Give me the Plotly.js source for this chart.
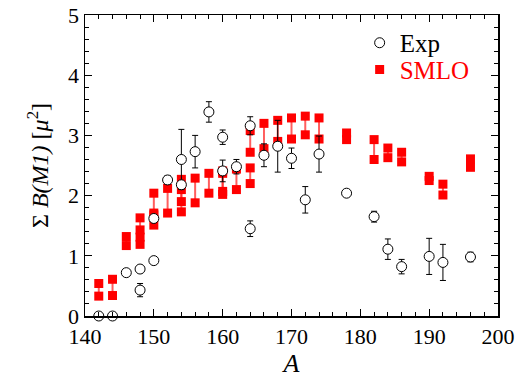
<!DOCTYPE html>
<html>
<head>
<meta charset="utf-8">
<script src="https://cdn.plot.ly/plotly-3.0.1.min.js"></script>
<style>html,body{margin:0;padding:0;background:#fff;}#chart{width:517px;height:379px;}</style>
</head>
<body>
<div id="chart"></div>
<script>
// Experimental data: mass number A, summed B(M1), error
const expA   = [142, 144, 146, 148, 148, 150, 150, 152, 154, 154, 156, 158, 160, 160, 162, 164, 164, 166, 168, 170, 172, 174, 178, 182, 184, 186, 190, 192, 196];
const expB   = [0.00, 0.00, 0.72, 0.78, 0.43, 0.92, 1.62, 2.26, 2.60, 2.18, 2.73, 3.39, 2.97, 2.41, 2.48, 3.16, 1.45, 2.67, 2.82, 2.62, 1.93, 2.69, 2.04, 1.65, 1.11, 0.82, 0.99, 0.89, 0.98];
const expErr = [0, 0, 0, 0, 0.11, 0, 0, 0.07, 0.50, 0, 0.27, 0.17, 0.12, 0.18, 0.12, 0.15, 0.13, 0.19, 0.43, 0.17, 0.22, 0.30, 0, 0.09, 0.17, 0.12, 0.30, 0.30, 0.08];

// SMLO calculations: pairs (upper, lower) per nucleus
const smloA  = [142, 144, 146, 148, 148, 150, 150, 152, 154, 154, 156, 158, 160, 160, 162, 164, 164, 166, 168, 170, 172, 174, 178, 182, 184, 186, 190, 192, 196];
const smloHi = [0.54, 0.61, 1.32, 1.63, 1.43, 2.04, 1.71, 2.12, 2.27, 2.10, 2.29, 2.37, 2.41, 2.37, 2.44, 3.08, 2.46, 3.20, 3.25, 3.29, 3.32, 3.29, 3.04, 2.93, 2.79, 2.72, 2.32, 2.19, 2.61];
const smloLo = [0.33, 0.34, 1.17, 1.31, 1.19, 1.51, 1.68, 1.71, 1.90, 1.73, 1.88, 2.04, 2.02, 2.07, 2.10, 2.72, 2.20, 2.78, 2.90, 2.94, 3.01, 2.94, 2.93, 2.60, 2.63, 2.56, 2.25, 2.01, 2.47];

const xTicks = [140, 150, 160, 170, 180, 190, 200];
const yTicks = [0, 1, 2, 3, 4, 5];

// build connecting segments from pairs
const segX = [], segY = [];
smloA.forEach((a, i) => { segX.push(a, a, null); segY.push(smloHi[i], smloLo[i], null); });
const sqX = [], sqY = [];
smloA.forEach((a, i) => { sqX.push(a, a); sqY.push(smloHi[i], smloLo[i]); });

const serif = 'Liberation Serif';

const traces = [
  { x: segX, y: segY, mode: 'lines', line: {color: 'rgba(255,40,40,0.75)', width: 2}, showlegend: false, hoverinfo: 'skip', cliponaxis: false },
  { x: sqX, y: sqY, mode: 'markers', name: '<span style="color:#ff0000">SMLO</span>', legend: 'legend2',
    marker: {symbol: 'square', size: 9, color: '#ff0000', line: {width: 0}}, cliponaxis: false },
  { x: expA, y: expB, mode: 'markers', name: 'Exp', legend: 'legend',
    error_y: {type: 'data', array: expErr, visible: true, color: '#000', thickness: 1, width: 3},
    marker: {symbol: 'circle', size: 10, color: '#ffffff', line: {color: '#000', width: 1}}, cliponaxis: false }
];

const axisCommon = {
  showgrid: false, zeroline: false, showline: true, linecolor: '#000', linewidth: 1.5,
  mirror: 'ticks', ticks: 'inside', ticklen: 7, tickwidth: 1, tickcolor: '#000',
  tickfont: {family: serif, size: 22, color: '#000'}
};

const legendCommon = {x: 0.665, xanchor: 'left', yanchor: 'middle', bgcolor: 'rgba(0,0,0,0)',
  font: {family: serif, size: 25, color: '#000'}, itemwidth: 30};

const layout = {
  width: 517, height: 379,
  margin: {l: 85, r: 19, t: 15, b: 63},
  paper_bgcolor: '#fff', plot_bgcolor: '#fff',
  font: {family: serif},
  showlegend: true,
  legend: Object.assign({}, legendCommon, {y: 0.907}),
  legend2: Object.assign({}, legendCommon, {y: 0.818}),
  xaxis: Object.assign({}, axisCommon, {
    range: [140, 200], tickvals: xTicks, ticktext: xTicks.map(String),
    minor: {dtick: 2, tick0: 140, ticks: 'inside', ticklen: 4, tickcolor: '#000', tickwidth: 1},
    title: {text: '<i>A</i>', font: {family: serif, size: 26, color: '#000'}, standoff: 2}
  }),
  yaxis: Object.assign({}, axisCommon, {
    range: [0, 5], tickvals: yTicks, ticktext: yTicks.map(String),
    minor: {dtick: 0.2, tick0: 0, ticks: 'inside', ticklen: 4, tickcolor: '#000', tickwidth: 1},
    title: {text: 'Σ <i>B(M1)</i> [<i>μ</i><sup>2</sup>]', font: {family: serif, size: 24, color: '#000'}, standoff: 12}
  })
};

Plotly.newPlot('chart', traces, layout, {staticPlot: true, displayModeBar: false});
</script>
</body>
</html>
